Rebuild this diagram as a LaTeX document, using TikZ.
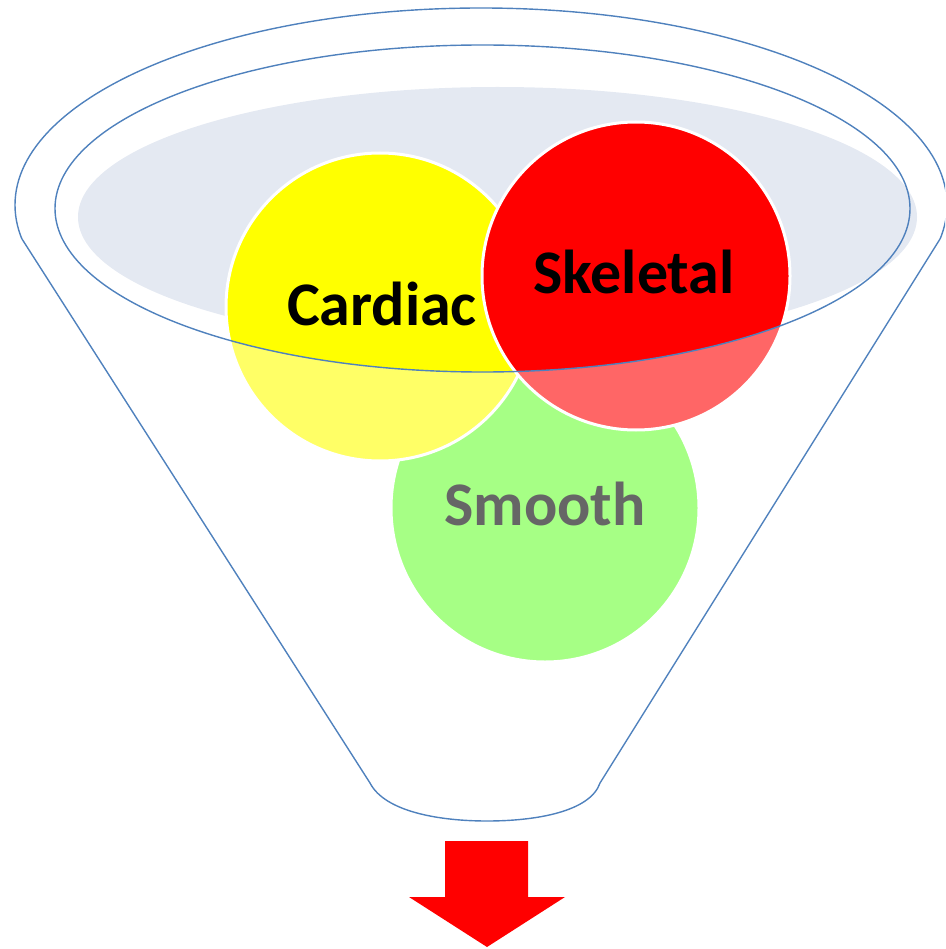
\documentclass[tikz,border=0pt]{standalone}
\usepackage{fontspec}
\setmainfont{Carlito}
\definecolor{funnelblue}{RGB}{79,129,189}
\definecolor{bowlgrey}{RGB}{228,233,242}
\definecolor{cardiacyellow}{RGB}{255,255,0}
\definecolor{skeletalred}{RGB}{255,0,0}
\definecolor{smoothgreen}{RGB}{107,255,53}
\definecolor{smoothgrey}{RGB}{102,102,102}
\begin{document}
\begin{tikzpicture}[x=1pt,y=-1pt,
  outline/.style={draw=funnelblue,line width=1.4pt},
  ball/.style={circle,draw=white,line width=3pt,minimum size=308pt,inner sep=0pt},
  balltext/.style={font=\bfseries\fontsize{62}{62}\selectfont,anchor=base,inner sep=0pt}]
\useasboundingbox (0,0) rectangle (945,949);
% bowl surface
\fill[bowlgrey] (497.5,217) ellipse [x radius=419.5, y radius=130];
% circles
\node[ball,fill=smoothgreen] (smooth) at (545,508) {};
\node[ball,fill=cardiacyellow] (cardiac) at (380,307) {};
\node[ball,fill=skeletalred] (skeletal) at (636,276) {};
% translucent front of the funnel
\begin{scope}
  \clip (200,90) rectangle (820,690);
  \fill[white,fill opacity=0.4,even odd rule] (0,0) rectangle (945,949)
    (482.5,208.5) ellipse [x radius=427.5, y radius=163.5];
\end{scope}
% labels
\node[balltext] (cardiacT) at (382,325) {Cardiac};
\node[balltext] (skeletalT) at (634,293) {Skeletal};
\node[balltext,text=smoothgrey] (smoothT) at (545,525) {Smooth};
% rim of the funnel
\draw[outline] (482.5,208.5) ellipse [x radius=427.5, y radius=163.5];
\begin{scope}
  \clip (0,0) rectangle (945,239);
  \draw[outline] (481,205) ellipse [x radius=466, y radius=197];
\end{scope}
\coordinate (LK) at (22,239);
\coordinate (RK) at (940,239);
\coordinate (LB) at (370,783);
\coordinate (RB) at (600,783);
\draw[outline] (LK) -- (LB) .. controls (385,812) and (440,821) .. (487,821)
  .. controls (535,821) and (590,812) .. (RB) -- (RK);
% output arrow
\fill[red] (445,841) -- (528,841) -- (528,897) -- (565,897) -- (487,947)
  -- (409,897) -- (445,897) -- cycle;
\end{tikzpicture}
\end{document}
